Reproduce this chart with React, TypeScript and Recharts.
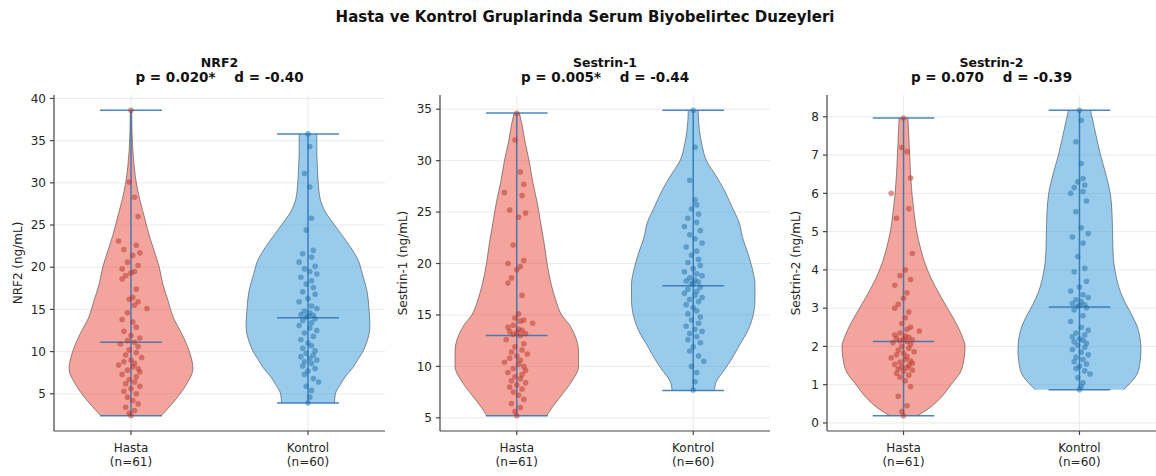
import React from 'react';
import { ComposedChart, Area, Scatter, XAxis, YAxis, CartesianGrid, ReferenceLine } from 'recharts';

const FONT = 'DejaVu Sans, Verdana, sans-serif';

const SUPTITLE = 'Hasta ve Kontrol Gruplarinda Serum Biyobelirtec Duzeyleri';
const GROUPS = ['Hasta', 'Kontrol'];
const GROUP_N = [61, 60];
const PANEL_TITLES = ['NRF2', 'Sestrin-1', 'Sestrin-2'];
const P_VALUES = ['0.020*', '0.005*', '0.070'];
const D_VALUES = ['-0.40', '-0.44', '-0.39'];
const Y_LABELS = ['NRF2 (ng/mL)', 'Sestrin-1 (ng/mL)', 'Sestrin-2 (ng/mL)'];
const Y_TICKS = [
  [5, 10, 15, 20, 25, 30, 35, 40],
  [5, 10, 15, 20, 25, 30, 35],
  [0, 1, 2, 3, 4, 5, 6, 7, 8],
];
const Y_DOMAINS = [
  [0.59, 40.41],
  [3.72, 36.38],
  [-0.21, 8.57],
];
const MEDIANS = [
  [11.1, 14.0],
  [13.0, 17.85],
  [2.13, 3.03],
];
const MINS = [
  [2.4, 3.9],
  [5.2, 7.65],
  [0.19, 0.87],
];
const MAXS = [
  [38.6, 35.8],
  [34.64, 34.9],
  [7.97, 8.17],
];

const NRF2_HASTA = [38.6, 30.1, 28.3, 26.0, 23.1, 22.6, 22.1, 21.7, 21.4, 20.6, 20.2, 19.8, 19.5, 19.3, 19.0, 18.6, 17.4, 16.4, 16.2, 15.9, 15.5, 15.1, 14.6, 13.8, 13.5, 12.9, 12.4, 11.9, 11.6, 11.3, 11.1, 10.9, 10.6, 10.2, 9.9, 9.6, 9.3, 9.0, 8.8, 8.6, 8.4, 8.2, 8.0, 7.8, 7.6, 7.3, 7.0, 6.7, 6.4, 6.2, 5.9, 5.6, 5.3, 5.0, 4.6, 4.2, 3.8, 3.4, 3.0, 2.7, 2.4];
const NRF2_KONTROL = [35.8, 34.3, 31.1, 29.5, 25.8, 24.4, 22.0, 21.6, 21.2, 20.6, 20.1, 19.8, 19.5, 19.2, 18.8, 18.4, 18.0, 17.6, 17.1, 16.8, 16.3, 15.9, 15.4, 15.1, 14.8, 14.6, 14.4, 14.3, 14.2, 14.1, 13.9, 13.7, 13.4, 13.1, 12.8, 12.5, 12.2, 11.8, 11.4, 11.0, 10.7, 10.4, 10.1, 9.8, 9.6, 9.4, 9.2, 9.0, 8.8, 8.6, 8.3, 8.0, 7.7, 7.3, 6.8, 6.4, 5.9, 5.4, 4.6, 3.9];
const SES1_HASTA = [34.6, 32.0, 28.9, 27.7, 26.9, 26.6, 25.2, 24.9, 24.5, 21.8, 20.3, 20.0, 19.7, 19.4, 18.6, 18.1, 16.9, 15.1, 14.7, 14.5, 14.4, 14.2, 14.0, 13.8, 13.6, 13.5, 13.4, 13.3, 13.2, 13.1, 13.0, 12.6, 12.2, 11.9, 11.6, 11.4, 11.2, 11.0, 10.8, 10.6, 10.4, 10.2, 10.0, 9.8, 9.6, 9.4, 9.2, 9.0, 8.8, 8.6, 8.4, 8.2, 8.0, 7.8, 7.5, 7.2, 6.8, 6.4, 6.0, 5.6, 5.2];
const SES1_KONTROL = [34.9, 31.3, 28.1, 26.2, 25.7, 25.3, 24.8, 24.4, 24.0, 23.6, 23.2, 22.8, 22.4, 22.0, 21.6, 21.2, 20.8, 20.4, 20.1, 19.8, 19.5, 19.2, 19.0, 18.8, 18.6, 18.4, 18.3, 18.2, 18.1, 18.0, 17.7, 17.5, 17.3, 17.1, 16.9, 16.7, 16.5, 16.3, 16.0, 15.7, 15.4, 15.1, 14.8, 14.5, 14.2, 13.9, 13.6, 13.4, 13.2, 12.9, 12.6, 12.3, 11.9, 11.5, 11.0, 10.5, 10.0, 9.4, 8.5, 7.7];
const SES2_HASTA = [7.97, 7.2, 7.09, 6.4, 6.0, 5.6, 5.35, 4.43, 4.0, 3.85, 3.75, 3.6, 3.4, 3.26, 3.1, 3.0, 2.9, 2.75, 2.6, 2.5, 2.45, 2.4, 2.35, 2.3, 2.27, 2.24, 2.21, 2.19, 2.17, 2.15, 2.13, 2.1, 2.05, 2.0, 1.95, 1.9, 1.86, 1.82, 1.78, 1.74, 1.7, 1.66, 1.62, 1.59, 1.56, 1.53, 1.5, 1.47, 1.44, 1.41, 1.38, 1.35, 1.3, 1.25, 1.2, 1.1, 0.95, 0.7, 0.45, 0.3, 0.19];
const SES2_KONTROL = [8.17, 7.91, 7.35, 6.78, 6.39, 6.3, 6.22, 6.15, 6.05, 6.0, 5.8, 5.52, 5.1, 4.95, 4.86, 4.7, 4.35, 4.04, 3.95, 3.7, 3.55, 3.45, 3.35, 3.28, 3.22, 3.17, 3.12, 3.09, 3.07, 3.05, 3.01, 2.95, 2.8, 2.65, 2.5, 2.42, 2.35, 2.3, 2.25, 2.2, 2.16, 2.12, 2.08, 2.03, 1.98, 1.92, 1.85, 1.78, 1.72, 1.66, 1.6, 1.54, 1.48, 1.42, 1.36, 1.28, 1.18, 1.05, 0.95, 0.87];

// horizontal jitter of the dots (in x units)
const JITTER_61 = [0.00, -0.01, 0.02, 0.04, -0.07, 0.03, -0.04, 0.05, 0.01, -0.02, 0.04, -0.05, 0.02, 0.00, -0.03, -0.05, 0.03, 0.01, -0.01, 0.04, 0.02, 0.09, -0.02, -0.05, 0.01, 0.03, -0.04, 0.00, 0.05, -0.02, 0.02, -0.06, 0.04, -0.01, 0.03, -0.03, 0.06, 0.00, -0.04, 0.02, -0.07, 0.01, 0.04, -0.02, 0.05, -0.05, 0.03, -0.01, 0.02, -0.03, 0.05, 0.00, -0.04, 0.03, -0.02, 0.01, 0.04, -0.03, 0.02, -0.01, 0.00];
const JITTER_60 = [0.00, 0.01, -0.02, 0.01, 0.02, -0.01, 0.03, -0.03, 0.02, -0.05, 0.04, -0.02, 0.01, 0.05, -0.04, 0.02, -0.01, 0.03, -0.03, 0.04, 0.00, -0.05, 0.02, 0.05, -0.02, 0.01, -0.04, 0.03, 0.00, -0.01, 0.04, -0.03, 0.02, -0.05, 0.01, 0.05, -0.02, 0.03, -0.04, 0.00, 0.02, -0.03, 0.04, -0.01, 0.03, -0.04, 0.01, 0.05, -0.02, 0.02, -0.03, 0.04, 0.00, -0.02, 0.03, 0.06, -0.01, 0.02, 0.01, 0.00];

// violin outlines: [level, half width]
const NRF2_HASTA_VIOLIN = [[2.4, 0.17], [4, 0.24], [6, 0.31], [8, 0.35], [10, 0.33], [12, 0.29], [14, 0.24], [16, 0.21], [18, 0.18], [20, 0.16], [22, 0.13], [24, 0.10], [26, 0.075], [28, 0.05], [30, 0.03], [32, 0.018], [34, 0.01], [36, 0.006], [38.6, 0.004]];
const NRF2_KONTROL_VIOLIN = [[3.9, 0.15], [5, 0.155], [6, 0.18], [7, 0.21], [8, 0.25], [9, 0.28], [10, 0.31], [11, 0.33], [13, 0.35], [15, 0.345], [17, 0.335], [19, 0.31], [21, 0.28], [23, 0.22], [25, 0.15], [26.5, 0.1], [28, 0.07], [30, 0.058], [32, 0.053], [34, 0.05], [35.8, 0.05]];
const SES1_HASTA_VIOLIN = [[5.2, 0.17], [6, 0.2], [7, 0.245], [8.5, 0.31], [10, 0.35], [11.5, 0.35], [13, 0.33], [14, 0.3], [15, 0.255], [16.5, 0.22], [18, 0.195], [20, 0.172], [22, 0.155], [24, 0.135], [26, 0.115], [28, 0.09], [30, 0.07], [32, 0.045], [33.5, 0.03], [34.64, 0.015]];
const SES1_KONTROL_VIOLIN = [[7.65, 0.12], [8.5, 0.13], [9.5, 0.17], [10.5, 0.21], [12, 0.26], [13.5, 0.31], [15, 0.34], [16.5, 0.35], [18, 0.35], [19.5, 0.335], [21, 0.31], [22.5, 0.28], [24, 0.26], [25.5, 0.22], [27, 0.18], [28.5, 0.13], [30, 0.075], [31.5, 0.05], [33, 0.035], [34.9, 0.028]];
const SES2_HASTA_VIOLIN = [[0.19, 0.08], [0.4, 0.15], [0.7, 0.22], [1.0, 0.27], [1.3, 0.32], [1.7, 0.345], [2.0, 0.35], [2.3, 0.33], [2.6, 0.3], [3.0, 0.25], [3.4, 0.2], [3.8, 0.155], [4.2, 0.12], [4.6, 0.095], [5.0, 0.075], [5.5, 0.06], [6.0, 0.048], [6.5, 0.04], [7.0, 0.035], [7.5, 0.03], [7.97, 0.025]];
const SES2_KONTROL_VIOLIN = [[0.87, 0.25], [1.0, 0.28], [1.3, 0.33], [1.6, 0.345], [1.9, 0.35], [2.2, 0.345], [2.5, 0.33], [2.8, 0.3], [3.1, 0.265], [3.4, 0.235], [3.8, 0.21], [4.2, 0.195], [4.6, 0.19], [5.0, 0.188], [5.5, 0.185], [6.0, 0.175], [6.5, 0.15], [7.0, 0.12], [7.5, 0.095], [8.17, 0.063]];

const PANEL_VALUES = [
  [NRF2_HASTA, NRF2_KONTROL],
  [SES1_HASTA, SES1_KONTROL],
  [SES2_HASTA, SES2_KONTROL],
];
const PANEL_VIOLINS = [
  [NRF2_HASTA_VIOLIN, NRF2_KONTROL_VIOLIN],
  [SES1_HASTA_VIOLIN, SES1_KONTROL_VIOLIN],
  [SES2_HASTA_VIOLIN, SES2_KONTROL_VIOLIN],
];
const JITTERS = [JITTER_61, JITTER_60];

// styles / layout
const PANEL_LAYOUT = [
  { left: 0, width: 386, yAxisWidth: 54, right: 1, yLabelX: 17.5 },
  { left: 386, width: 384, yAxisWidth: 54, right: 0, yLabelX: 402.5 },
  { left: 770, width: 386, yAxisWidth: 57, right: 0, yLabelX: 796 },
];
const PLOT_TOP = 95;
const PLOT_BOTTOM = 431;
const X_DOMAIN = [-0.435, 1.435];
const CAP_HALF = 0.175;
const BODY_FILL = ['#E74C3C', '#3498DB'];
const DOT_FILL = ['#B83227', '#1F6FA8'];
const LINE_COLOR = '#2A72B5';
const AXIS_COLOR = '#444';
const TEXT_COLOR = '#262626';

function buildViolinRows(profiles: number[][][]) {
  const map = new Map<number, any>();
  profiles.forEach((prof, g) => {
    prof.forEach(([y, w]) => {
      if (!map.has(y)) map.set(y, { y });
      map.get(y)['band' + g] = [g - w, g + w];
    });
  });
  const rows = Array.from(map.values()).sort((a, b) => a.y - b.y);
  rows.forEach((r) => {
    profiles.forEach((_, g) => {
      if (!r['band' + g]) r['band' + g] = [null, null];
    });
  });
  return rows;
}

const XTick = (props: any) => {
  const { x, y, payload } = props;
  const g = Math.round(payload.value);
  return (
    <text x={x} y={y} textAnchor="middle" fontSize={12} fill={TEXT_COLOR} fontFamily={FONT}>
      <tspan x={x} dy={15}>{GROUPS[g]}</tspan>
      <tspan x={x} dy={14}>{`(n=${GROUP_N[g]})`}</tspan>
    </text>
  );
};

function Panel({ idx }: { idx: number }) {
  const lay = PANEL_LAYOUT[idx];
  const rows = buildViolinRows(PANEL_VIOLINS[idx]);
  const dots = PANEL_VALUES[idx].map((vals, g) =>
    vals.map((v, i) => ({ x: g + JITTERS[g][i], y: v }))
  );
  return (
    <div style={{ position: 'absolute', left: lay.left, top: 0 }}>
      <ComposedChart
        width={lay.width}
        height={476}
        layout="vertical"
        data={rows}
        margin={{ top: PLOT_TOP, right: lay.right, bottom: 0, left: 0 }}
      >
        <CartesianGrid stroke="#e4e4e4" strokeWidth={0.8} syncWithTicks />
        <XAxis
          type="number"
          domain={X_DOMAIN}
          ticks={[0, 1]}
          allowDataOverflow
          height={476 - PLOT_BOTTOM}
          tick={<XTick />}
          tickSize={4}
          tickMargin={2}
          stroke={AXIS_COLOR}
          strokeWidth={1.2}
          interval={0}
        />
        <YAxis
          type="number"
          dataKey="y"
          reversed
          domain={Y_DOMAINS[idx]}
          ticks={Y_TICKS[idx]}
          allowDataOverflow
          width={lay.yAxisWidth}
          tickSize={4}
          tickMargin={4}
          stroke={AXIS_COLOR}
          strokeWidth={1.2}
          interval={0}
          tick={{ fontSize: 12, fill: TEXT_COLOR, fontFamily: FONT }}
        />
        {[0, 1].map((g) => (
          <Area
            key={'body' + g}
            dataKey={'band' + g}
            type="monotone"
            connectNulls
            fill={BODY_FILL[g]}
            fillOpacity={0.5}
            stroke="#000"
            strokeOpacity={0.4}
            strokeWidth={1}
            isAnimationActive={false}
            dot={false}
            activeDot={false}
          />
        ))}
        {[0, 1].map((g) => (
          <ReferenceLine
            key={'bar' + g}
            segment={[{ x: g, y: MINS[idx][g] }, { x: g, y: MAXS[idx][g] }]}
            stroke={LINE_COLOR}
            strokeWidth={1.5}
            strokeOpacity={0.85}
          />
        ))}
        {[0, 1].map((g) => (
          <ReferenceLine
            key={'max' + g}
            segment={[{ x: g - CAP_HALF, y: MAXS[idx][g] }, { x: g + CAP_HALF, y: MAXS[idx][g] }]}
            stroke={LINE_COLOR}
            strokeWidth={1.5}
            strokeOpacity={0.85}
          />
        ))}
        {[0, 1].map((g) => (
          <ReferenceLine
            key={'min' + g}
            segment={[{ x: g - CAP_HALF, y: MINS[idx][g] }, { x: g + CAP_HALF, y: MINS[idx][g] }]}
            stroke={LINE_COLOR}
            strokeWidth={1.5}
            strokeOpacity={0.85}
          />
        ))}
        {[0, 1].map((g) => (
          <ReferenceLine
            key={'med' + g}
            segment={[{ x: g - CAP_HALF, y: MEDIANS[idx][g] }, { x: g + CAP_HALF, y: MEDIANS[idx][g] }]}
            stroke={LINE_COLOR}
            strokeWidth={1.5}
            strokeOpacity={0.85}
          />
        ))}
        {[0, 1].map((g) => (
          <Scatter
            key={'dots' + g}
            data={dots[g]}
            dataKey="x"
            isAnimationActive={false}
            shape={(p: any) => (
              <circle cx={p.cx} cy={p.cy} r={2.8} fill={DOT_FILL[g]} fillOpacity={0.5} />
            )}
          />
        ))}
      </ComposedChart>
    </div>
  );
}

export default function App() {
  const centers = PANEL_LAYOUT.map((l) => {
    const plotLeft = l.left + l.yAxisWidth;
    const plotRight = l.left + l.width - l.right;
    return (plotLeft + plotRight) / 2;
  });
  const midY = (PLOT_TOP + PLOT_BOTTOM) / 2;
  return (
    <div style={{ position: 'absolute', left: 0, top: 0, width: 1156, height: 476, background: '#fff', overflow: 'hidden' }}>
      {[0, 1, 2].map((i) => (
        <Panel key={i} idx={i} />
      ))}
      <svg width={1156} height={476} style={{ position: 'absolute', left: 0, top: 0, pointerEvents: 'none' }}>
        <text x={585} y={22} textAnchor="middle" fontSize={15} fontWeight="bold" fill="#111" fontFamily={FONT}>
          {SUPTITLE}
        </text>
        {[0, 1, 2].map((i) => (
          <g key={i}>
            <text x={centers[i]} y={67} textAnchor="middle" fontSize={12.5} fontWeight="bold" fill="#111" fontFamily={FONT}>
              {PANEL_TITLES[i]}
            </text>
            <text x={centers[i]} y={81.5} textAnchor="middle" fontSize={13.5} fontWeight="bold" fill="#111" fontFamily={FONT} style={{ whiteSpace: 'pre' }}>
              {`p = ${P_VALUES[i]}    d = ${D_VALUES[i]}`}
            </text>
            <text
              x={PANEL_LAYOUT[i].yLabelX}
              y={midY}
              textAnchor="middle"
              dominantBaseline="central"
              fontSize={12}
              fill={TEXT_COLOR}
              fontFamily={FONT}
              transform={`rotate(-90 ${PANEL_LAYOUT[i].yLabelX} ${midY})`}
            >
              {Y_LABELS[i]}
            </text>
          </g>
        ))}
      </svg>
    </div>
  );
}
